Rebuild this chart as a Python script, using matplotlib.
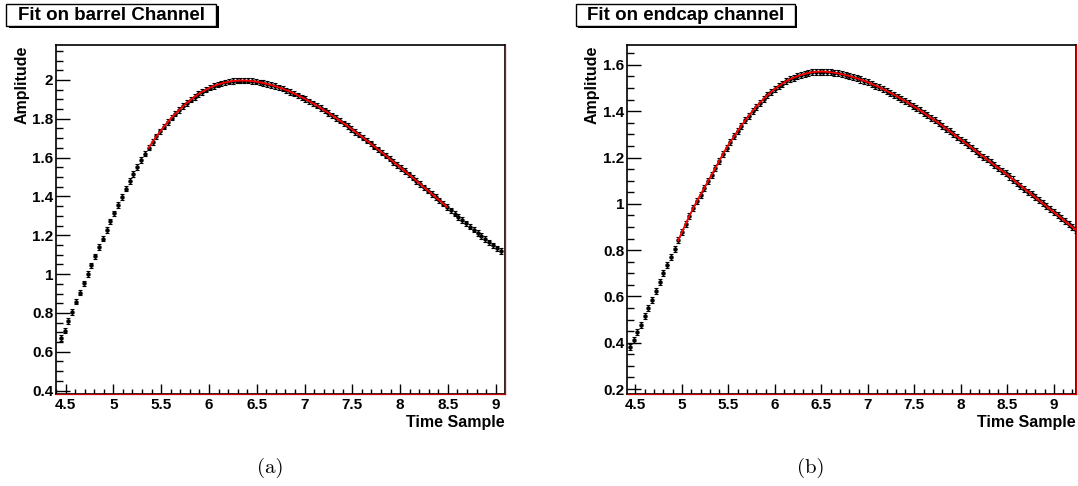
import matplotlib
matplotlib.use("Agg")
import matplotlib.pyplot as plt
from matplotlib.patches import Rectangle
from matplotlib.ticker import MultipleLocator, FuncFormatter

# barrel channel: time sample / amplitude
barrel_t = [4.45, 4.49, 4.53, 4.57, 4.61, 4.65, 4.69, 4.73, 4.77, 4.81, 4.85, 4.89,
            4.93, 4.97, 5.01, 5.05, 5.09, 5.13, 5.17, 5.21, 5.25, 5.29, 5.33, 5.37,
            5.41, 5.45, 5.49, 5.53, 5.57, 5.61, 5.65, 5.69, 5.73, 5.77, 5.81, 5.85,
            5.89, 5.93, 5.97, 6.01, 6.05, 6.09, 6.13, 6.17, 6.21, 6.25, 6.29, 6.33,
            6.37, 6.41, 6.45, 6.49, 6.53, 6.57, 6.61, 6.65, 6.69, 6.73, 6.77, 6.81,
            6.85, 6.89, 6.93, 6.97, 7.01, 7.05, 7.09, 7.13, 7.17, 7.21, 7.25, 7.29,
            7.33, 7.37, 7.41, 7.45, 7.49, 7.53, 7.57, 7.61, 7.65, 7.69, 7.73, 7.77,
            7.81, 7.85, 7.89, 7.93, 7.97, 8.01, 8.05, 8.09, 8.13, 8.17, 8.21, 8.25,
            8.29, 8.33, 8.37, 8.41, 8.45, 8.49, 8.53, 8.57, 8.61, 8.65, 8.69, 8.73,
            8.77, 8.81, 8.85, 8.89, 8.93, 8.97, 9.01, 9.05]
barrel_amp = [0.670, 0.709, 0.758, 0.805, 0.858, 0.905, 0.953, 1.000, 1.045, 1.091, 1.140, 1.183,
              1.227, 1.272, 1.313, 1.357, 1.398, 1.440, 1.479, 1.516, 1.552, 1.587, 1.620, 1.651,
              1.681, 1.709, 1.735, 1.760, 1.784, 1.806, 1.826, 1.846, 1.865, 1.882, 1.898, 1.913,
              1.927, 1.939, 1.950, 1.960, 1.969, 1.976, 1.982, 1.987, 1.991, 1.994, 1.996, 1.997,
              1.997, 1.996, 1.994, 1.991, 1.988, 1.984, 1.979, 1.974, 1.968, 1.962, 1.955, 1.947,
              1.939, 1.930, 1.921, 1.911, 1.901, 1.890, 1.879, 1.867, 1.855, 1.843, 1.830, 1.817,
              1.804, 1.790, 1.776, 1.762, 1.748, 1.733, 1.718, 1.703, 1.688, 1.673, 1.657, 1.642,
              1.626, 1.610, 1.594, 1.578, 1.562, 1.546, 1.530, 1.513, 1.497, 1.480, 1.464, 1.447,
              1.430, 1.413, 1.397, 1.380, 1.363, 1.346, 1.329, 1.312, 1.295, 1.278, 1.262, 1.245,
              1.229, 1.212, 1.196, 1.180, 1.164, 1.148, 1.133, 1.118]
barrel_err = 0.014
barrel_fit_range = (5.37, 8.49)

# endcap channel
endcap_t = [4.44, 4.48, 4.52, 4.56, 4.60, 4.64, 4.68, 4.72, 4.76, 4.80, 4.84, 4.88,
            4.92, 4.96, 5.00, 5.04, 5.08, 5.12, 5.16, 5.20, 5.24, 5.28, 5.32, 5.36,
            5.40, 5.44, 5.48, 5.52, 5.56, 5.60, 5.64, 5.68, 5.72, 5.76, 5.80, 5.84,
            5.88, 5.92, 5.96, 6.00, 6.04, 6.08, 6.12, 6.16, 6.20, 6.24, 6.28, 6.32,
            6.36, 6.40, 6.44, 6.48, 6.52, 6.56, 6.60, 6.64, 6.68, 6.72, 6.76, 6.80,
            6.84, 6.88, 6.92, 6.96, 7.00, 7.04, 7.08, 7.12, 7.16, 7.20, 7.24, 7.28,
            7.32, 7.36, 7.40, 7.44, 7.48, 7.52, 7.56, 7.60, 7.64, 7.68, 7.72, 7.76,
            7.80, 7.84, 7.88, 7.92, 7.96, 8.00, 8.04, 8.08, 8.12, 8.16, 8.20, 8.24,
            8.28, 8.32, 8.36, 8.40, 8.44, 8.48, 8.52, 8.56, 8.60, 8.64, 8.68, 8.72,
            8.76, 8.80, 8.84, 8.88, 8.92, 8.96, 9.00, 9.04, 9.08, 9.12, 9.16, 9.20, 9.24]
endcap_amp = [0.381, 0.413, 0.447, 0.477, 0.514, 0.552, 0.585, 0.623, 0.662, 0.699, 0.735, 0.770,
              0.803, 0.842, 0.878, 0.913, 0.948, 0.980, 1.011, 1.040, 1.068, 1.097, 1.126, 1.155,
              1.185, 1.214, 1.243, 1.267, 1.291, 1.315, 1.338, 1.360, 1.381, 1.401, 1.420, 1.437,
              1.454, 1.469, 1.483, 1.496, 1.508, 1.519, 1.529, 1.538, 1.545, 1.551, 1.556, 1.561,
              1.565, 1.568, 1.570, 1.571, 1.571, 1.570, 1.568, 1.566, 1.563, 1.560, 1.556, 1.552,
              1.547, 1.542, 1.537, 1.531, 1.525, 1.518, 1.511, 1.504, 1.496, 1.488, 1.480, 1.471,
              1.462, 1.453, 1.444, 1.434, 1.424, 1.414, 1.404, 1.393, 1.382, 1.371, 1.360, 1.349,
              1.337, 1.325, 1.313, 1.301, 1.289, 1.277, 1.265, 1.253, 1.241, 1.228, 1.216, 1.204,
              1.192, 1.179, 1.167, 1.155, 1.143, 1.131, 1.118, 1.105, 1.092, 1.079, 1.066, 1.053,
              1.041, 1.028, 1.015, 1.002, 0.989, 0.976, 0.964, 0.951, 0.938, 0.925, 0.912, 0.899, 0.887]
endcap_err = 0.013
endcap_fit_range = (4.95, 9.25)

W, H = 1078, 486
plt.rcParams['font.family'] = ['Liberation Sans', 'DejaVu Sans']
plt.rcParams['font.weight'] = 'bold'

fig = plt.figure(figsize=(W / 100, H / 100), dpi=100)


def px(x, y):
    # pixel (from top-left) -> figure fraction
    return x / W, 1 - y / H


def make_panel(left_px, ylab_x, xlim, ylim, t, amp, err, fit_range, title, box,
               caption, cap_x):
    x0, y0 = px(left_px, 393.5)
    ax = fig.add_axes([x0, y0, 449 / W, 348.5 / H])
    ax.errorbar(t, amp, yerr=err, fmt='o', ms=2.2, color='black', ecolor='black',
                elinewidth=0.8, capsize=1.5, capthick=0.8, zorder=3)
    ft = [a for a in t if fit_range[0] <= a <= fit_range[1]]
    fa = [b for a, b in zip(t, amp) if fit_range[0] <= a <= fit_range[1]]
    ax.plot(ft, fa, color='red', lw=1.3, zorder=4)
    ax.set_xlim(*xlim)
    ax.set_ylim(*ylim)
    ax.xaxis.set_major_locator(MultipleLocator(0.5))
    ax.xaxis.set_minor_locator(MultipleLocator(0.1))
    ax.yaxis.set_major_locator(MultipleLocator(0.2))
    ax.yaxis.set_minor_locator(MultipleLocator(0.05))
    ax.tick_params(axis='x', which='major', direction='in', length=7.2, width=1, pad=3,
                   labelsize=11, top=False)
    ax.tick_params(axis='x', which='minor', direction='in', length=3.6, width=1, top=False)
    ax.tick_params(axis='y', which='major', direction='in', length=10, width=1, pad=2,
                   labelsize=11, right=False)
    ax.tick_params(axis='y', which='minor', direction='in', length=5, width=1, right=False)
    ax.xaxis.set_major_formatter(FuncFormatter(lambda v, p: f"{v:g}"))
    ax.yaxis.set_major_formatter(FuncFormatter(lambda v, p: f"{v:g}"))
    for s in ax.spines.values():
        s.set_linewidth(1.2)
    # fit function drawn to zero outside its range (bottom + right edge in red)
    ax.axhline(ylim[0], color='#cc0000', lw=0.9, zorder=5, clip_on=False)
    ax.axvline(xlim[1], color='#cc0000', lw=0.9, zorder=5, clip_on=False)

    tx, ty = px(ylab_x, 46)
    fig.text(tx, ty, "Amplitude", rotation=90, ha='center', va='top', fontsize=11.5,
             fontweight='bold')
    rx, ry = px(left_px + 449, 422)
    fig.text(rx, ry, "Time Sample", ha='right', va='center', fontsize=11.5,
             fontweight='bold')

    bx0, by0, bx1, by1 = box
    sx, sy = px(bx0 + 2.5, by1 + 2)
    fig.patches.append(Rectangle((sx, sy), (bx1 - bx0) / W, (by1 - by0) / H,
                                 transform=fig.transFigure, fc='black', ec='none', zorder=1))
    wx, wy = px(bx0, by1)
    fig.patches.append(Rectangle((wx, wy), (bx1 - bx0) / W, (by1 - by0) / H,
                                 transform=fig.transFigure, fc='white', ec='black', lw=1,
                                 zorder=2))
    cx, cy = px((bx0 + bx1) / 2, (by0 + by1) / 2 + 0.5)
    fig.text(cx, cy, title, ha='center', va='center', fontsize=13.5, fontweight='bold',
             zorder=3)

    qx, qy = px(cap_x, 468)
    fig.text(qx, qy, caption, ha='center', va='center', fontsize=15,
             fontfamily='cmr10', fontweight='normal')
    return ax


ax1 = make_panel(56, 22, (4.40, 9.097), (0.385, 2.18), barrel_t, barrel_amp, barrel_err,
                 barrel_fit_range, "Fit on barrel Channel", (6, 4, 216, 26), "(a)", 270)
ax2 = make_panel(627, 592, (4.409, 9.238), (0.1806, 1.686), endcap_t, endcap_amp, endcap_err,
                 endcap_fit_range, "Fit on endcap channel", (576, 4, 795, 26), "(b)", 811)

fig.savefig("out.png", dpi=100)
